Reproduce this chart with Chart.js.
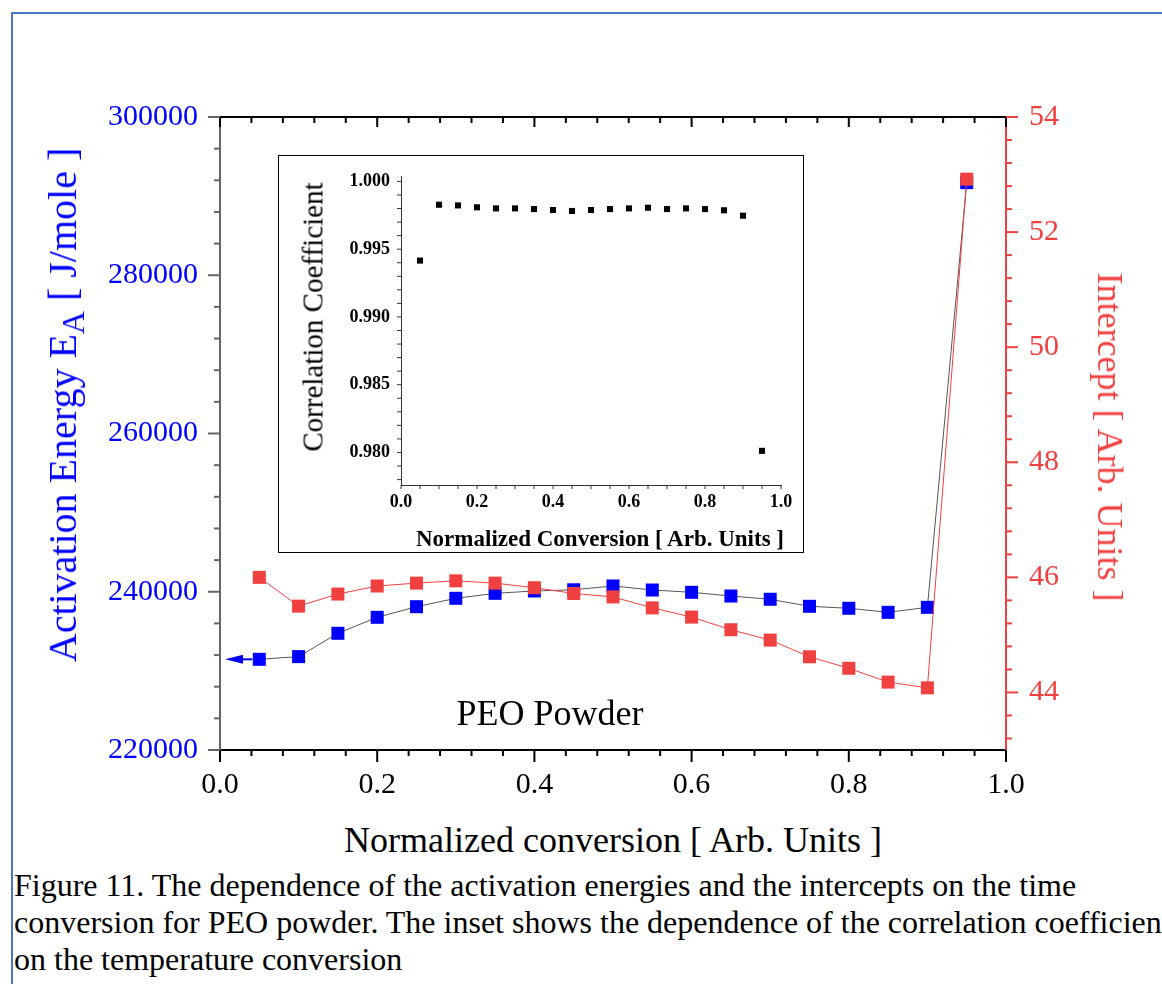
<!DOCTYPE html>
<html>
<head>
<meta charset="utf-8">
<script src="https://cdn.jsdelivr.net/npm/chart.js@4.4.1/dist/chart.umd.min.js"></script>
<style>
  html, body { margin: 0; padding: 0; background: #fff; overflow: hidden; }
  body { width: 1162px; height: 984px; position: relative; font-family: "Liberation Serif", "Times New Roman", serif; }
  #frame { position: absolute; left: 11px; top: 12px; width: 1200px; height: 1000px;
           border-top: 2px solid #4a78c9; border-left: 2px solid #4a78c9; }
  canvas { position: absolute; }
  #main { left: 0; top: 0; }
  #inset { position: absolute; left: 278px; top: 155px; width: 524px; height: 396px;
           border: 1px solid #000; background: #fff; }
  #inset canvas { left: 0; top: 0; }
  .lbl { position: absolute; white-space: nowrap; line-height: 1; transform-origin: center center;
         font-family: "Liberation Serif", "Times New Roman", serif; }
  #caption { position: absolute; left: 14px; top: 867px; font-size: 32px; line-height: 37px; white-space: nowrap; color: #000;
             font-family: "Liberation Serif", "Times New Roman", serif; }
</style>
</head>
<body>
<div id="frame"></div>
<canvas id="main" width="1162" height="810"></canvas>
<div id="inset"><canvas id="inner" width="524" height="396"></canvas></div>

<div class="lbl" style="left:66px; top:405px; font-size:40px; color:#0000ff; transform:translate(-50%,-50%) rotate(-90deg);">Activation Energy E<sub style="font-size:80%; vertical-align:-0.25em;">A</sub> [ J/mole ]</div>
<div class="lbl" style="left:1110px; top:437px; font-size:36px; color:#f04040; transform:translate(-50%,-50%) rotate(90deg);">Intercept [ Arb. Units ]</div>
<div class="lbl" style="left:613px; top:840px; font-size:36px; color:#000; transform:translate(-50%,-50%);">Normalized conversion [ Arb. Units ]</div>
<div class="lbl" style="left:550px; top:713px; font-size:36px; color:#000; transform:translate(-50%,-50%);">PEO Powder</div>
<div class="lbl" style="left:313px; top:317px; font-size:29px; color:#000; transform:translate(-50%,-50%) rotate(-90deg);">Correlation Coefficient</div>
<div class="lbl" style="left:600px; top:538px; font-size:23px; font-weight:bold; color:#000; transform:translate(-50%,-50%);">Normalized Conversion [ Arb. Units ]</div>

<div id="caption">Figure 11. The dependence of the activation energies and the intercepts on the time<br>conversion for PEO powder. The inset shows the dependence of the correlation coefficient<br>on the temperature conversion</div>

<script>
// values
const conversion = [0.05, 0.10, 0.15, 0.20, 0.25, 0.30, 0.35, 0.40, 0.45, 0.50,
                    0.55, 0.60, 0.65, 0.70, 0.75, 0.80, 0.85, 0.90, 0.95];
const activationEnergy = [231460, 231800, 234750, 236770, 238110, 239170, 239800, 240100, 240250, 240730,
                          240220, 239930, 239460, 239050, 238160, 237910, 237400, 238030, 291700];
const intercept = [46.00, 45.50, 45.71, 45.85, 45.90, 45.94, 45.90, 45.82, 45.72, 45.66,
                   45.47, 45.31, 45.09, 44.91, 44.62, 44.42, 44.18, 44.08, 52.92];
const correlation = [0.99416, 0.99828, 0.99823, 0.99809, 0.99801, 0.99801, 0.99796, 0.99789, 0.99782, 0.99789,
                     0.99796, 0.99801, 0.99806, 0.99796, 0.99801, 0.99796, 0.99787, 0.99747, 0.98012];

const xTicksMain = [0.0, 0.2, 0.4, 0.6, 0.8, 1.0];
const leftTicks = [220000, 240000, 260000, 280000, 300000];
const rightTicks = [44, 46, 48, 50, 52, 54];
const insetYTicks = [0.980, 0.985, 0.990, 0.995, 1.000];

const SERIF = '"Liberation Serif", "Times New Roman", serif';
const BLUE = '#0000ff';
const RED = '#f04040';

function pts(xs, ys) {
    return xs.map((x, i) => ({x: x, y: ys[i]}));
}

function isOn(v, list) {
    return list.some(t => Math.abs(t - v) < 1e-7);
}

// ticks are drawn by hand so majors and minors can have different lengths
function tickMarks(specs) {
    return {
        id: 'tickMarks',
        afterDraw(chart) {
            const ctx = chart.ctx;
            const area = chart.chartArea;
            ctx.save();
            specs.forEach(s => {
                const scale = chart.scales[s.scale];
                ctx.strokeStyle = s.color;
                ctx.lineWidth = s.width;
                if (s.line) {
                    ctx.beginPath();
                    ctx.moveTo(area.left - 1, area[s.edge]);
                    ctx.lineTo(area.right + 1, area[s.edge]);
                    ctx.stroke();
                }
                scale.ticks.forEach(t => {
                    const len = isOn(t.value, s.majors) ? s.major : s.minor;
                    const p = scale.getPixelForValue(t.value);
                    const e = area[s.edge];
                    ctx.beginPath();
                    if (scale.isHorizontal()) {
                        ctx.moveTo(p, e);
                        ctx.lineTo(p, e + s.dir * len);
                    } else {
                        ctx.moveTo(e, p);
                        ctx.lineTo(e + s.dir * len, p);
                    }
                    ctx.stroke();
                });
            });
            ctx.restore();
        }
    };
}

// blue arrow pointing from the first EA point to the left axis
const leftArrow = {
    id: 'leftArrow',
    afterDatasetsDraw(chart) {
        const meta = chart.getDatasetMeta(1);
        const p = meta.data[0];
        const ctx = chart.ctx;
        const tip = chart.chartArea.left + 5;
        ctx.save();
        ctx.strokeStyle = BLUE;
        ctx.fillStyle = BLUE;
        ctx.lineWidth = 2;
        ctx.beginPath();
        ctx.moveTo(p.x - 7, p.y);
        ctx.lineTo(tip + 14, p.y);
        ctx.stroke();
        ctx.beginPath();
        ctx.moveTo(tip, p.y);
        ctx.lineTo(tip + 18, p.y - 4.5);
        ctx.lineTo(tip + 18, p.y + 4.5);
        ctx.closePath();
        ctx.fill();
        ctx.restore();
    }
};

new Chart(document.getElementById('main'), {
    type: 'line',
    data: {
        datasets: [
            {
                label: 'Intercept',
                data: pts(conversion, intercept),
                yAxisID: 'y2',
                borderColor: RED,
                borderWidth: 1,
                pointStyle: 'rect',
                pointRadius: 9.2,
                pointBorderWidth: 0,
                pointBackgroundColor: RED
            },
            {
                label: 'Activation energy',
                data: pts(conversion, activationEnergy),
                yAxisID: 'y',
                borderColor: '#555555',
                borderWidth: 1,
                pointStyle: 'rect',
                pointRadius: 9.2,
                pointBorderWidth: 0,
                pointBackgroundColor: BLUE
            }
        ]
    },
    options: {
        responsive: false,
        animation: false,
        devicePixelRatio: 1,
        layout: {padding: {top: 117, left: 0, right: 0, bottom: 0}},
        plugins: {legend: {display: false}, tooltip: {enabled: false}},
        scales: {
            x: {
                type: 'linear',
                position: 'bottom',
                min: 0, max: 1,
                grid: {display: false, drawTicks: true, tickLength: 12},
                border: {display: true, color: '#000', width: 2},
                ticks: {
                    stepSize: 0.04, autoSkip: false, maxRotation: 0, includeBounds: false,
                    padding: 5, color: '#000', font: {family: SERIF, size: 30},
                    callback: v => isOn(v, xTicksMain) ? v.toFixed(1) : ''
                },
                afterFit: s => { s.height = 60; }
            },
            y: {
                type: 'linear',
                position: 'left',
                min: 220000, max: 300000,
                grid: {display: false, drawTicks: true, tickLength: 12},
                border: {display: true, color: '#666666', width: 2},
                ticks: {
                    stepSize: 4000, autoSkip: false, includeBounds: false,
                    padding: 10, color: BLUE, font: {family: SERIF, size: 30},
                    callback: v => isOn(v, leftTicks) ? String(v) : ''
                },
                afterFit: s => { s.width = 220; }
            },
            y2: {
                type: 'linear',
                position: 'right',
                min: 43, max: 54,
                grid: {display: false, drawTicks: true, tickLength: 12},
                border: {display: true, color: RED, width: 2},
                ticks: {
                    stepSize: 0.4, autoSkip: false, includeBounds: false,
                    padding: 11, color: RED, font: {family: SERIF, size: 30},
                    callback: v => isOn(v, rightTicks) ? String(Math.round(v)) : ''
                },
                afterFit: s => { s.width = 156; }
            }
        }
    },
    plugins: [
        leftArrow,
        tickMarks([
            {scale: 'x', edge: 'bottom', dir: 1, major: 12, minor: 6, majors: xTicksMain, color: '#000', width: 2},
            {scale: 'x', edge: 'top', dir: 1, major: 10, minor: 6, majors: xTicksMain, color: '#000', width: 2, line: true},
            {scale: 'y', edge: 'left', dir: -1, major: 12, minor: 6, majors: leftTicks, color: '#666666', width: 2},
            {scale: 'y2', edge: 'right', dir: 1, major: 12, minor: 6, majors: rightTicks, color: RED, width: 2}
        ])
    ]
});

// inset: correlation coefficient
new Chart(document.getElementById('inner'), {
    type: 'line',
    data: {
        datasets: [{
            label: 'Correlation',
            data: pts(conversion, correlation),
            showLine: false,
            pointStyle: 'rect',
            pointRadius: 4.3,
            pointBorderWidth: 0,
            pointBackgroundColor: '#000'
        }]
    },
    options: {
        responsive: false,
        animation: false,
        devicePixelRatio: 1,
        layout: {padding: {top: 20, left: 0, right: 22, bottom: 0}},
        plugins: {legend: {display: false}, tooltip: {enabled: false}},
        scales: {
            x: {
                type: 'linear',
                min: 0, max: 1,
                grid: {display: false, drawTicks: true, tickLength: 4},
                border: {display: true, color: '#333', width: 1},
                ticks: {
                    stepSize: 0.05, autoSkip: false, maxRotation: 0, includeBounds: false,
                    padding: 3, color: '#000', font: {family: SERIF, size: 18, weight: 'bold'},
                    callback: v => isOn(v, xTicksMain) ? v.toFixed(1) : ''
                },
                afterFit: s => { s.height = 67; }
            },
            y: {
                type: 'linear',
                min: 0.9776, max: 1.0004,
                grid: {display: false, drawTicks: true, tickLength: 4},
                border: {display: true, color: '#333', width: 1},
                ticks: {
                    stepSize: 0.001, autoSkip: false, includeBounds: false,
                    padding: 7, color: '#000', font: {family: SERIF, size: 18, weight: 'bold'},
                    callback: v => isOn(v, insetYTicks) ? v.toFixed(3) : ''
                },
                afterFit: s => { s.width = 122; }
            }
        }
    },
    plugins: [
        tickMarks([
            {scale: 'x', edge: 'bottom', dir: 1, major: 4, minor: 4, majors: xTicksMain, color: '#333', width: 1},
            {scale: 'y', edge: 'left', dir: -1, major: 4, minor: 4, majors: insetYTicks, color: '#333', width: 1}
        ])
    ]
});
</script>
</body>
</html>
